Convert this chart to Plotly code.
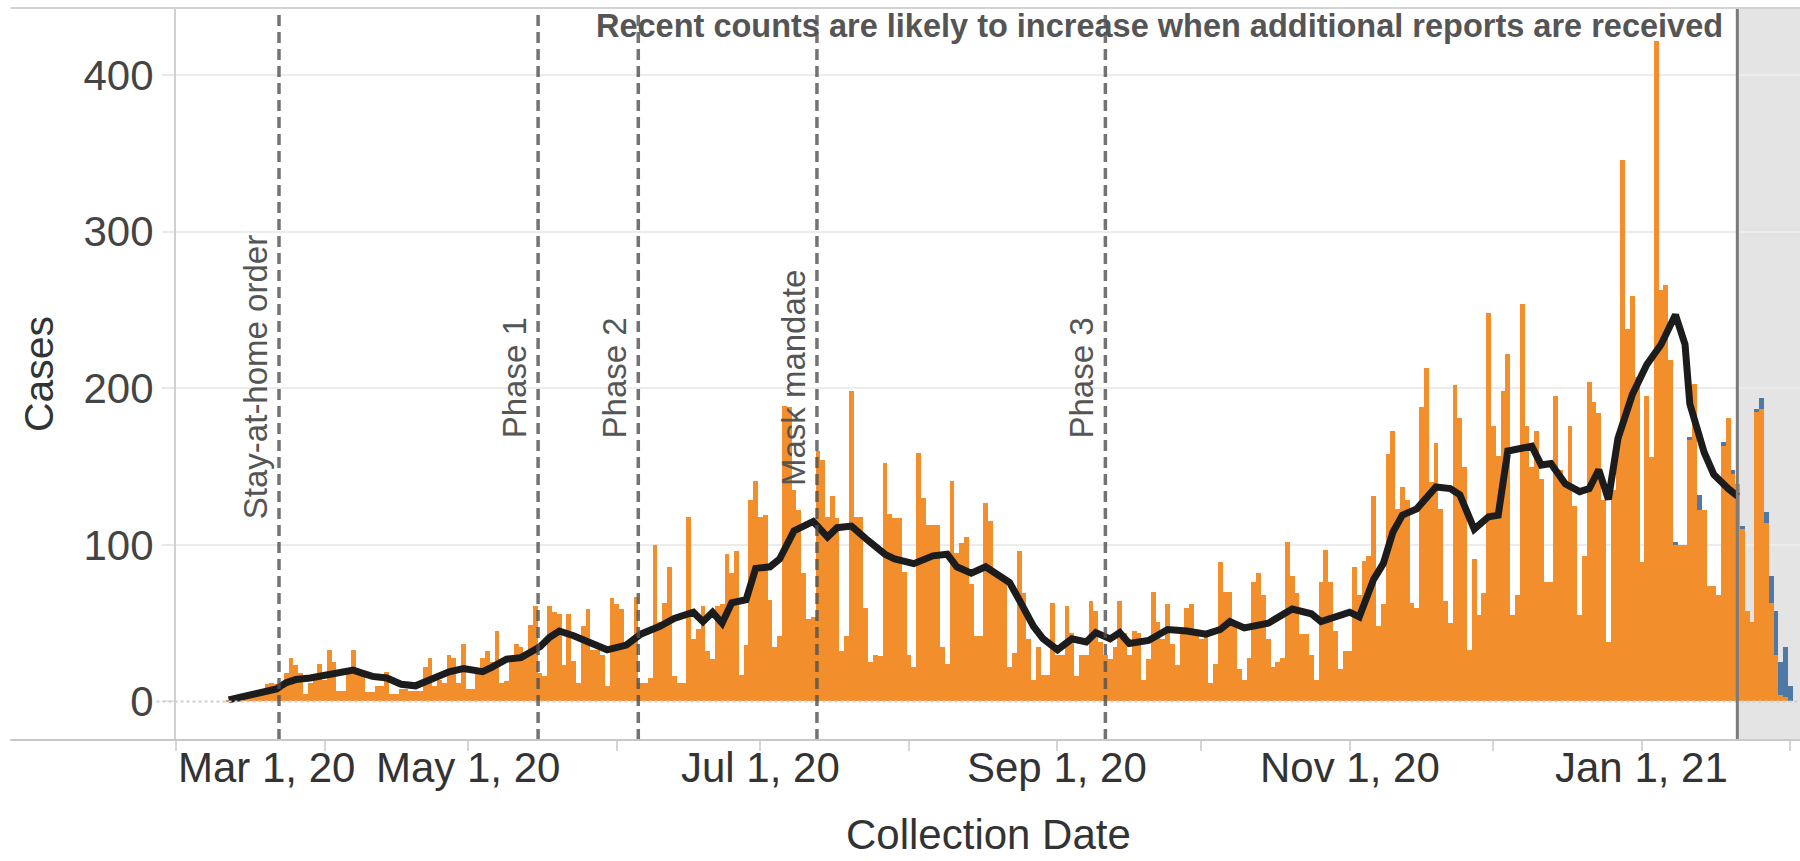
import pandas as pd
import plotly.graph_objects as go

# ---------------- data ----------------
first_case_date = "2020-03-12"
# daily confirmed cases by collection date, Mar 12, 2020 -> Feb 1, 2021
daily_cases = [
    1, 2, 1, 3, 4, 5, 4, 8, 11, 12,
    11, 8, 18, 28, 23, 18, 5, 12, 14, 24,
    14, 33, 25, 7, 7, 19, 33, 21, 20, 6,
    6, 10, 10, 19, 5, 5, 8, 8, 7, 7,
    7, 22, 28, 10, 14, 12, 30, 28, 12, 37,
    8, 8, 20, 28, 32, 25, 45, 12, 13, 28,
    37, 35, 28, 49, 61, 18, 16, 61, 57, 56,
    23, 56, 26, 12, 48, 59, 33, 33, 30, 10,
    66, 62, 59, 38, 40, 67, 12, 12, 15, 100,
    51, 63, 86, 16, 12, 12, 118, 40, 46, 61,
    32, 27, 61, 62, 94, 82, 96, 17, 36, 129,
    141, 118, 119, 65, 35, 42, 189, 188, 135, 122,
    82, 53, 54, 160, 154, 118, 131, 117, 32, 42,
    198, 118, 118, 60, 25, 30, 29, 152, 120, 117,
    117, 83, 30, 22, 159, 130, 113, 113, 113, 35,
    24, 141, 95, 101, 105, 75, 42, 42, 127, 115,
    80, 80, 79, 22, 31, 96, 69, 40, 14, 35,
    17, 17, 63, 30, 30, 61, 44, 16, 30, 30,
    64, 58, 38, 30, 27, 35, 64, 44, 30, 45,
    44, 14, 27, 70, 51, 40, 62, 37, 23, 47,
    60, 62, 44, 40, 44, 12, 24, 89, 70, 70,
    48, 21, 14, 28, 76, 82, 68, 40, 22, 25,
    28, 102, 80, 69, 43, 43, 30, 14, 76, 97,
    76, 45, 21, 32, 32, 86, 68, 90, 93, 131,
    48, 62, 158, 173, 123, 137, 129, 63, 60, 188,
    213, 140, 165, 123, 64, 50, 202, 181, 150, 33,
    91, 55, 69, 248, 176, 157, 198, 222, 55, 68,
    254, 176, 150, 173, 142, 76, 76, 195, 148, 140,
    176, 125, 55, 93, 204, 191, 184, 129, 38, 135,
    169, 346, 238, 259, 207, 89, 195, 156, 422, 263,
    266, 218, 100, 100, 100, 167, 203, 122, 122, 74,
    74, 68, 163, 181, 145, 139, 110, 58, 51, 185,
    187, 114, 63, 30, 4, 3, 0,
]

# additional cases from recent reports (stacked on top)
recent_extra_dates = [
    "2021-01-08", "2021-01-11", "2021-01-13", "2021-01-18", "2021-01-20",
    "2021-01-22", "2021-01-25", "2021-01-26", "2021-01-27", "2021-01-28",
    "2021-01-29", "2021-01-30", "2021-01-31", "2021-02-01",
]
recent_extra_cases = [2, 2, 10, 3, 3, 2, 2, 7, 7, 17, 28, 21, 32, 10]

# 7-day average line
avg_dates = [
    "2020-03-12", "2020-03-15", "2020-03-18", "2020-03-22", "2020-03-24",
    "2020-03-26", "2020-03-29", "2020-03-31", "2020-04-04", "2020-04-07",
    "2020-04-09", "2020-04-11", "2020-04-14", "2020-04-17", "2020-04-20",
    "2020-04-23", "2020-04-27", "2020-04-30", "2020-05-04", "2020-05-06",
    "2020-05-09", "2020-05-12", "2020-05-14", "2020-05-16", "2020-05-18",
    "2020-05-20", "2020-05-23", "2020-05-27", "2020-05-30", "2020-06-03",
    "2020-06-06", "2020-06-10", "2020-06-13", "2020-06-17", "2020-06-19",
    "2020-06-21", "2020-06-23", "2020-06-25", "2020-06-28", "2020-06-30",
    "2020-07-03", "2020-07-05", "2020-07-08", "2020-07-12", "2020-07-15",
    "2020-07-17", "2020-07-20", "2020-07-23", "2020-07-27", "2020-07-29",
    "2020-08-02", "2020-08-06", "2020-08-09", "2020-08-11", "2020-08-14",
    "2020-08-17", "2020-08-20", "2020-08-22", "2020-08-24", "2020-08-27",
    "2020-08-29", "2020-09-01", "2020-09-04", "2020-09-07", "2020-09-09",
    "2020-09-12", "2020-09-14", "2020-09-16", "2020-09-20", "2020-09-24",
    "2020-09-28", "2020-10-02", "2020-10-05", "2020-10-07", "2020-10-10",
    "2020-10-13", "2020-10-15", "2020-10-20", "2020-10-24", "2020-10-26",
    "2020-10-30", "2020-11-01", "2020-11-03", "2020-11-06", "2020-11-08",
    "2020-11-10", "2020-11-12", "2020-11-15", "2020-11-19", "2020-11-22",
    "2020-11-24", "2020-11-27", "2020-11-30", "2020-12-02", "2020-12-04",
    "2020-12-09", "2020-12-11", "2020-12-13", "2020-12-16", "2020-12-19",
    "2020-12-21", "2020-12-23", "2020-12-25", "2020-12-27", "2020-12-30",
    "2021-01-02", "2021-01-05", "2021-01-07", "2021-01-08", "2021-01-10",
    "2021-01-11", "2021-01-14", "2021-01-16", "2021-01-19", "2021-01-21",
]
avg_cases = [
    1, 3, 5, 8, 12,
    14, 15, 16, 19, 20,
    18, 16, 15, 11, 10,
    14, 19, 21, 19, 22,
    27, 28, 31, 35, 41,
    45, 42, 37, 33, 36,
    43, 48, 53, 57, 51,
    57, 50, 63, 65, 85,
    86, 91, 109, 115, 105,
    111, 112, 104, 94, 91,
    88, 93, 94, 86, 82,
    86, 80, 76, 65, 48,
    40, 33, 40, 38, 44,
    40, 44, 37, 39, 46,
    45, 43, 46, 51, 47,
    49, 50, 59, 56, 51,
    55, 57, 54, 78, 88,
    108, 119, 123, 137, 136,
    132, 110, 118, 119, 160,
    163, 151, 152, 139, 134,
    136, 148, 129, 168, 196,
    215, 228, 240, 247, 228,
    190, 159, 145, 136, 131,
]

event_dates = ["2020-03-22 12:00", "2020-05-15 14:00", "2020-06-05 12:00",
               "2020-07-12 19:00", "2020-09-11 00:00"]
event_labels = ["Stay-at-home order", "Phase 1", "Phase 2", "Mask mandate", "Phase 3"]
provisional_start = "2021-01-20 22:00"
note_text = "Recent counts are likely to increase when additional reports are received"

x_tick_dates = ["2020-03-01", "2020-05-01", "2020-07-01", "2020-09-01", "2020-11-01", "2021-01-01"]
x_tick_labels = ["Mar 1, 20", "May 1, 20", "Jul 1, 20", "Sep 1, 20", "Nov 1, 20", "Jan 1, 21"]
x_title = "Collection Date"
y_title = "Cases"
y_tick_values = [0, 100, 200, 300, 400]
x_range = ["2020-03-01", "2021-02-03"]
y_range = [-24.6, 442.9]

# ---------------- figure ----------------
FONT = "Liberation Sans, Arial, sans-serif"
ORANGE = "#F28E2B"
BLUE = "#4E79A7"

case_dates = pd.date_range(first_case_date, periods=len(daily_cases), freq="D")

fig = go.Figure()
fig.add_trace(go.Bar(x=case_dates, y=daily_cases, name="Cases",
                     marker=dict(color=ORANGE, line=dict(width=0))))
fig.add_trace(go.Bar(x=pd.to_datetime(recent_extra_dates), y=recent_extra_cases,
                     name="Pending", marker=dict(color=BLUE, line=dict(width=0))))
fig.add_trace(go.Scatter(x=pd.to_datetime(avg_dates), y=avg_cases, mode="lines",
                         name="7-day average",
                         line=dict(color="#1c1c1c", width=7)))

shapes = []
# provisional (grey) region
shapes.append(dict(type="rect", xref="x", yref="paper", x0=provisional_start, x1=x_range[1],
                   y0=0, y1=1, fillcolor="#e4e4e4", line=dict(width=0), layer="below"))
# zero dotted line
shapes.append(dict(type="line", xref="paper", yref="y", x0=-0.012, x1=1, y0=0, y1=0,
                   line=dict(color="#cfcfcf", width=2, dash="dot"), layer="above"))
# event lines
for d in event_dates:
    shapes.append(dict(type="line", xref="x", yref="paper", x0=d, x1=d, y0=0, y1=1,
                       line=dict(color="rgba(80,80,80,0.8)", width=3.5, dash="11px,6px"),
                       layer="above"))
# provisional boundary
shapes.append(dict(type="line", xref="x", yref="paper", x0=provisional_start, x1=provisional_start,
                   y0=0, y1=1, line=dict(color="#7a7a7a", width=3), layer="above"))
# top border and bottom axis line (span across label area)
shapes.append(dict(type="line", xref="paper", yref="paper", x0=-0.102, x1=1, y0=1, y1=1,
                   line=dict(color="#d2d2d2", width=2)))
shapes.append(dict(type="line", xref="paper", yref="paper", x0=-0.102, x1=1, y0=0, y1=0,
                   line=dict(color="#c8c8c8", width=2)))

annotations = []
for d, lab in zip(event_dates, event_labels):
    annotations.append(dict(x=d, xref="x", y=0.495, yref="paper", text=lab, showarrow=False,
                            textangle=-90, xanchor="right", yanchor="middle", xshift=-3,
                            font=dict(family=FONT, size=33, color="#555555")))
annotations.append(dict(x=provisional_start, xref="x", y=1, yref="paper", text="<b>" + note_text + "</b>",
                        showarrow=False, xanchor="right", yanchor="top", xshift=-12, yshift=2,
                        font=dict(family=FONT, size=32.5, color="#555555")))
for i, (d, lab) in enumerate(zip(x_tick_dates, x_tick_labels)):
    annotations.append(dict(x=d, xref="x", y=0, yref="paper", text=lab, showarrow=False,
                            xanchor="left" if i == 0 else "center", yanchor="middle", yshift=-27,
                            font=dict(family=FONT, size=42, color="#333333")))
# x-axis title
annotations.append(dict(x=0.5, xref="paper", y=0, yref="paper", text=x_title, showarrow=False,
                        xanchor="center", yanchor="middle", yshift=-94,
                        font=dict(family=FONT, size=42, color="#333333")))

fig.update_layout(
    width=1800, height=861,
    margin=dict(l=176, r=0, t=8, b=121),
    paper_bgcolor="white", plot_bgcolor="white",
    barmode="stack", bargap=0,
    showlegend=False,
    font=dict(family=FONT, color="#333333"),
    shapes=shapes, annotations=annotations,
    xaxis=dict(type="date", range=x_range, showgrid=False, zeroline=False, showline=False,
               showticklabels=False, ticks="outside", ticklen=10, tickwidth=1.5,
               tickcolor="#d5d5d5", tick0="2020-03-01", dtick="M1",
               automargin=False),
    yaxis=dict(range=y_range, tickvals=y_tick_values, showgrid=False, zeroline=False,
               showline=True, linecolor="#d0d0d0", linewidth=2,
               ticks="outside", ticklen=12, tickcolor="#e8e8e8", tickwidth=1.5,
               tickfont=dict(size=42, color="#444444"),
               minor=dict(tickvals=y_tick_values[1:], showgrid=True, gridcolor="#ececec",
                          gridwidth=1.5, ticks=""),
               title=dict(text=y_title, font=dict(size=41, color="#333333"), standoff=17),
               automargin=False),
)

fig.write_html("out.html", config={"displayModeBar": False},
               post_script="document.body.style.margin='0px';")
